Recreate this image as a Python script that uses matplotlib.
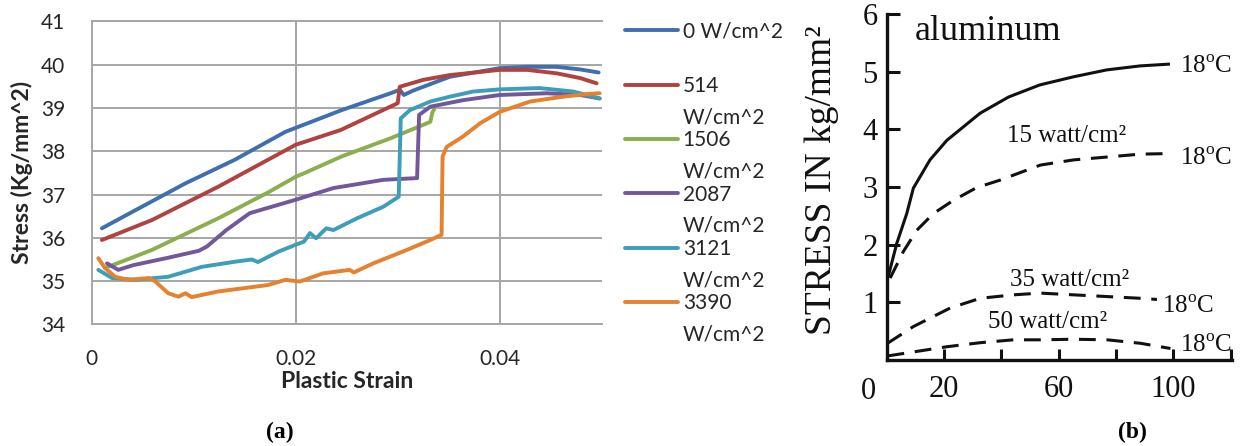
import numpy as np
import matplotlib
matplotlib.use('Agg')
from matplotlib import pyplot as plt
from matplotlib.lines import Line2D

plt.rcParams['mathtext.fontset'] = 'custom'
plt.rcParams['mathtext.rm'] = 'Liberation Serif'

# ---------------- panel (a): stress vs plastic strain ----------------
power_a = ['0', '514', '1506', '2087', '3121', '3390']
unit_a = 'W/cm^2'
colors_a = ['#3F6FAF', '#B0433F', '#8BAE4F', '#71589B', '#3E9EB9', '#E5812F']

strain_0 = [0.0010, 0.0043, 0.0092, 0.0140, 0.0190, 0.0245, 0.0293, 0.0302, 0.0306, 0.0315, 0.0351,
            0.0400, 0.0427, 0.0456, 0.0479, 0.0497]
stress_0 = [36.22, 36.64, 37.26, 37.80, 38.45, 38.95, 39.34, 39.42, 39.30, 39.40, 39.72,
            39.92, 39.95, 39.95, 39.89, 39.82]

strain_514 = [0.0010, 0.0059, 0.0124, 0.0200, 0.0244, 0.0300, 0.0302, 0.0325, 0.0351, 0.0400, 0.0427,
              0.0456, 0.0479, 0.0495]
stress_514 = [35.95, 36.41, 37.18, 38.15, 38.49, 39.11, 39.49, 39.65, 39.76, 39.88, 39.88,
              39.80, 39.69, 39.57]

strain_1506 = [0.0013, 0.0059, 0.0124, 0.0173, 0.0200, 0.0209, 0.0245, 0.0293, 0.0325, 0.0332, 0.0334, 0.0336]
stress_1506 = [35.30, 35.72, 36.45, 37.05, 37.41, 37.50, 37.88, 38.30, 38.61, 38.68, 38.90, 38.98]

strain_2087 = [0.0015, 0.0026, 0.0041, 0.0073, 0.0105, 0.0113, 0.0132, 0.0155, 0.0200, 0.0237, 0.0286,
               0.0319, 0.0321, 0.0332, 0.0364, 0.0400, 0.0446, 0.0479, 0.0498]
stress_2087 = [35.41, 35.26, 35.37, 35.53, 35.70, 35.80, 36.18, 36.57, 36.88, 37.15, 37.34,
               37.38, 38.84, 39.03, 39.18, 39.30, 39.34, 39.30, 39.22]

strain_3121 = [0.00065, 0.0020, 0.0043, 0.0075, 0.0108, 0.0141, 0.0157, 0.0163, 0.0183, 0.0200, 0.0208,
               0.0214, 0.0220, 0.0230, 0.0237, 0.0260, 0.0286, 0.0301, 0.0303, 0.0312, 0.0332, 0.0351,
               0.0374, 0.0400, 0.0439, 0.0472, 0.0498]
stress_3121 = [35.26, 35.07, 35.03, 35.10, 35.33, 35.45, 35.50, 35.44, 35.68, 35.84, 35.91,
               36.11, 35.99, 36.22, 36.18, 36.45, 36.72, 36.95, 38.76, 38.95, 39.15, 39.26,
               39.38, 39.43, 39.46, 39.38, 39.22]

strain_3390 = [0.00065, 0.0013, 0.0023, 0.0036, 0.0056, 0.0062, 0.0075, 0.0085, 0.0092, 0.0098, 0.0124,
               0.0150, 0.0173, 0.0190, 0.0204, 0.0227, 0.0253, 0.0257, 0.0276, 0.0309, 0.0332, 0.0343,
               0.0344, 0.0348, 0.0364, 0.0381, 0.0400, 0.0430, 0.0462, 0.0485, 0.0498]
stress_3390 = [35.53, 35.30, 35.10, 35.03, 35.07, 35.00, 34.72, 34.64, 34.72, 34.63, 34.76,
               34.84, 34.91, 35.03, 34.99, 35.18, 35.26, 35.20, 35.41, 35.72, 35.95, 36.07,
               37.88, 38.10, 38.34, 38.65, 38.91, 39.15, 39.26, 39.32, 39.34]

series_a = [(strain_0, stress_0), (strain_514, stress_514), (strain_1506, stress_1506),
            (strain_2087, stress_2087), (strain_3121, stress_3121), (strain_3390, stress_3390)]

# ---------------- panel (b): aluminum curves ----------------
x_18c = [0.6, 3.5, 7.0, 9.3, 15.1, 21.0, 32.6, 42.5, 53.4, 65.1, 76.7, 88.4, 98.3]
y_18c = [1.46, 2.02, 2.54, 2.98, 3.47, 3.81, 4.28, 4.56, 4.77, 4.91, 5.03, 5.10, 5.13]

x_15w = [1.2, 5.8, 10.5, 16.3, 23.3, 31.4, 39.6, 53.6, 65.2, 76.9, 88.5, 99.0]
y_15w = [1.42, 1.88, 2.25, 2.54, 2.77, 2.99, 3.12, 3.38, 3.47, 3.52, 3.57, 3.58]

x_35w = [0.3, 9.3, 22.1, 32.6, 44.2, 53.6, 65.2, 76.9, 88.5, 94.3]
y_35w = [0.29, 0.58, 0.90, 1.07, 1.13, 1.16, 1.13, 1.10, 1.07, 1.05]

x_50w = [0.3, 9.3, 21.0, 32.6, 44.2, 53.6, 65.2, 76.9, 88.5, 99.0]
y_50w = [0.07, 0.14, 0.23, 0.30, 0.35, 0.35, 0.36, 0.35, 0.29, 0.20]

fig = plt.figure(figsize=(12.41, 4.46), dpi=100)
W, H = 1241.0, 446.0

# ---- (a) ----
ax1 = fig.add_axes([91.7 / W, (H - 324.4) / H, 510 / W, 303 / H])
lines = []
for (sx, sy), col in zip(series_a, colors_a):
    ln, = ax1.plot(sx, sy, color=col, lw=2.8, solid_capstyle='round', solid_joinstyle='round')
    lines.append(ln)

ax1.set_xlim(0, 0.05)
ax1.set_ylim(34, 41)
ax1.set_xticks([0, 0.02, 0.04])
ax1.set_xticklabels(['0', '0.02', '0.04'])
ax1.set_yticks(range(34, 42))
ax1.grid(True, color='#A6A6A6', lw=1.4)
ax1.set_axisbelow(True)
for side in ['left', 'bottom', 'top']:
    ax1.spines[side].set_color('#A6A6A6')
    ax1.spines[side].set_linewidth(1.4)
ax1.spines['right'].set_visible(False)
ax1.tick_params(length=0, labelsize=15, colors='#262626')
ax1.tick_params(axis='x', pad=18)
ax1.tick_params(axis='y', pad=19)
for t in ax1.get_xticklabels() + ax1.get_yticklabels():
    t.set_family('Lato')

ax1.set_ylabel('Stress (Kg/mm^2)', family='Lato', fontweight='bold', fontsize=16.5, color='#262626', va='center')
ax1.yaxis.set_label_coords(-0.1367, 0.5)
ax1.set_xlabel('Plastic Strain', family='Lato', fontweight='bold', fontsize=16.5, color='#262626', va='center')
ax1.xaxis.set_label_coords(0.5, -0.187)

# Excel legend: key next to the value, unit wrapped onto the next line
leg_first = [power_a[0] + ' ' + unit_a] + power_a[1:]
leg_kw = dict(loc='upper left', frameon=False, borderpad=0, borderaxespad=0,
              labelspacing=1.65, prop={'family': 'Lato', 'size': 15}, labelcolor='#262626')
fig.legend(lines, leg_first, bbox_to_anchor=(625 / W, 1 - 21.5 / H),
           handlelength=2.55, handletextpad=0.22, **leg_kw)
blank = [Line2D([], [], color='none') for _ in power_a[1:]]
fig.legend(blank, [unit_a] * len(blank), bbox_to_anchor=(682.6 / W, 1 - 107 / H),
           handlelength=0, handletextpad=0, **leg_kw)

# ---- (b) ----
ax2 = fig.add_axes([886.7 / W, (H - 360) / H, 344.8 / W, 346 / H])
ax2.plot(x_18c, y_18c, color='#111111', lw=2.2, clip_on=False)
for xs, ys in [(x_15w, y_15w), (x_35w, y_35w), (x_50w, y_50w)]:
    ax2.plot(xs, ys, color='#111111', lw=2.2, dashes=(5.5, 3.5), clip_on=False)

ax2.set_xlim(0, 120.3)
ax2.set_ylim(0, 6)
for side in ['top', 'right']:
    ax2.spines[side].set_visible(False)
for side in ['left', 'bottom']:
    ax2.spines[side].set_linewidth(2.4)
    ax2.spines[side].set_color('#111111')
ax2.set_yticks([1, 2, 3, 4, 5, 6])
ax2.set_xticks([20, 40, 60, 80, 100, 120])
ax2.set_xticklabels(['20', '', '60', '', '100', ''])
ax2.tick_params(direction='in', width=2.2, color='#111111', labelsize=22, labelcolor='#111111')
ax2.tick_params(axis='y', length=9, pad=6.5)
ax2.tick_params(axis='x', length=8, pad=11)
for t in ax2.get_xticklabels() + ax2.get_yticklabels():
    t.set_family('Liberation Serif')
ax2.text(-6.5, -0.29, '0', ha='center', va='top', fontsize=22, family='Liberation Serif',
         color='#111111', clip_on=False)

ax2.set_ylabel('STRESS IN kg/mm\u00b2', family='Liberation Serif', fontsize=27, color='#111111', va='center')
ax2.yaxis.set_label_coords(-0.1876, 0.52)

serif = dict(family='Liberation Serif', color='#111111', va='baseline', ha='left')
ax2.text(9.8, 5.546, 'aluminum', fontsize=26, **serif)
ax2.text(41.9, 3.78, '15 watt/cm\u00b2', fontsize=18, **serif)
ax2.text(43.0, 1.28, '35 watt/cm\u00b2', fontsize=18, **serif)
ax2.text(35.4, 0.55, '50 watt/cm\u00b2', fontsize=18, **serif)
for tx, ty in [(102.4, 4.97), (102.4, 3.38), (96.0, 0.81), (102.2, 0.144)]:
    ax2.text(tx, ty, r'18$^{\rm o}$C', fontsize=18, clip_on=False, **serif)

fig.text(280 / W, 1 - 432 / H, '(a)', ha='center', va='center', fontsize=17,
         fontweight='bold', family='Liberation Serif')
fig.text(1132 / W, 1 - 432 / H, '(b)', ha='center', va='center', fontsize=17,
         fontweight='bold', family='Liberation Serif')

fig.savefig('out.png', dpi=100)
